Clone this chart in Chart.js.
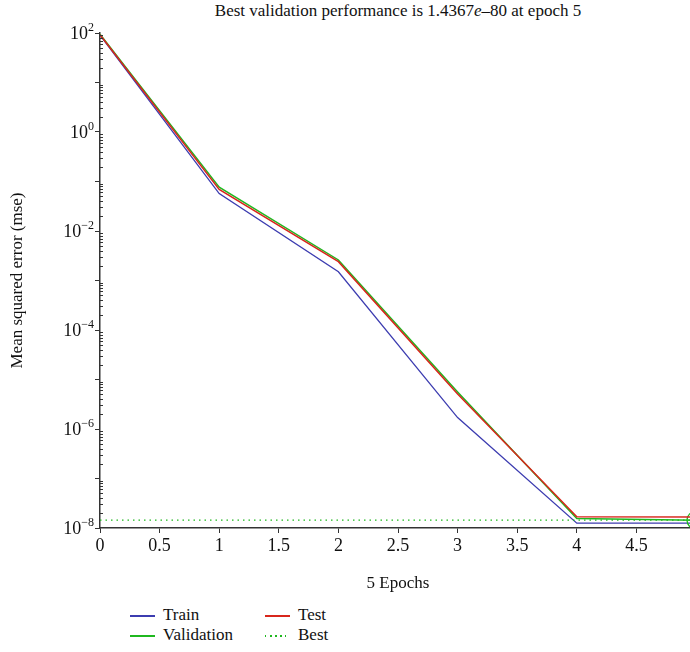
<!DOCTYPE html>
<html lang="en">
<head>
    <meta charset="UTF-8">
    <title>Best validation performance</title>
    <style>
        body {
            margin: 0;
            width: 690px;
            height: 652px;
            overflow: hidden;
            position: relative;
            background: #fff;
            font-family: "Liberation Serif", "DejaVu Serif", serif;
            color: #111;
        }
        #title {
            position: absolute;
            left: 100px;
            top: 1px;
            width: 596px;
            text-align: center;
            font-size: 17px;
            line-height: 20px;
        }
        .chart-container {
            position: absolute;
            left: 0;
            top: 0;
            width: 710px;
            height: 600px;
        }
        #legend {
            position: absolute;
            left: 130px;
            top: 605px;
            display: grid;
            grid-template-columns: 135px 135px;
            grid-auto-flow: column;
            grid-template-rows: 20px 20px;
            font-size: 17px;
            line-height: 20px;
        }
        .item { display: flex; align-items: center; }
        .sample { display: block; width: 25px; height: 2px; margin-right: 8px; margin-top: 1px; }
    </style>
</head>
<body>
    <div id="title">Best validation performance is 1.4367<i>e</i>–80 at epoch 5</div>
    <div class="chart-container">
        <canvas id="chart"></canvas>
    </div>
    <div id="legend"></div>

    <script src="https://cdn.jsdelivr.net/npm/chart.js"></script>
    <script>
        // mse per epoch
        const epochs = [0, 1, 2, 3, 4, 5];
        const trainMse = [90, 0.057, 0.0015, 1.7e-6, 1.25e-8, 1.25e-8];
        const validationMse = [95, 0.077, 0.0026, 5.6e-6, 1.55e-8, 1.4367e-8];
        const testMse = [92, 0.069, 0.0024, 5.1e-6, 1.68e-8, 1.66e-8];
        const bestEpoch = 5;
        const bestMse = 1.4367e-8;

        const yTickPowers = [2, 0, -2, -4, -6, -8];
        const xTickStep = 0.5;

        const colors = {
            Train: '#3c3cb0',
            Validation: '#1fb81f',
            Test: '#d8261c',
            Best: '#1fb81f'
        };

        function points(ys) {
            return epochs.map((x, i) => ({ x: x, y: ys[i] }));
        }

        function isPower(v) {
            const e = Math.log10(v);
            return Math.abs(e - Math.round(e)) < 1e-9;
        }

        // y labels as 10 with a raised exponent, minor log ticks drawn inward
        const logAxisDecor = {
            id: 'logAxisDecor',
            afterDraw(chart) {
                const ctx = chart.ctx;
                const y = chart.scales.y;
                const left = chart.chartArea.left;
                ctx.save();
                ctx.strokeStyle = '#333';
                ctx.lineWidth = 1;
                y.ticks.forEach(t => {
                    if (isPower(t.value)) return;
                    const py = Math.round(y.getPixelForValue(t.value)) + 0.5;
                    ctx.beginPath();
                    ctx.moveTo(left, py);
                    ctx.lineTo(left + 3, py);
                    ctx.stroke();
                });
                ctx.fillStyle = '#111';
                ctx.textBaseline = 'middle';
                ctx.textAlign = 'left';
                yTickPowers.forEach(p => {
                    const py = y.getPixelForValue(Math.pow(10, p));
                    const exp = p < 0 ? '\u2212' + (-p) : String(p);
                    ctx.font = '12px "Liberation Serif"';
                    const ew = ctx.measureText(exp).width;
                    ctx.font = '18px "Liberation Serif"';
                    const bw = ctx.measureText('10').width;
                    const right = left - 6;
                    ctx.fillText('10', right - ew - bw, py + 1);
                    ctx.font = '12px "Liberation Serif"';
                    ctx.fillText(exp, right - ew, py - 5);
                });
                ctx.restore();
            }
        };

        const ctx = document.getElementById('chart').getContext('2d');
        const chart = new Chart(ctx, {
            type: 'line',
            data: {
                datasets: [
                    {
                        label: 'Test',
                        data: points(testMse),
                        borderColor: colors.Test,
                        borderWidth: 1.5,
                        pointRadius: 0,
                        order: 0
                    },
                    {
                        label: 'Best',
                        data: [{ x: 0, y: bestMse }, { x: bestEpoch, y: bestMse }],
                        borderColor: colors.Best,
                        borderWidth: 1.3,
                        borderDash: [1.5, 4],
                        pointRadius: c => c.dataIndex === 1 ? 9 : 0,
                        pointBorderColor: colors.Best,
                        pointBackgroundColor: 'rgba(0,0,0,0)',
                        pointBorderWidth: 1.3,
                        clip: false,
                        order: 1
                    },
                    {
                        label: 'Validation',
                        data: points(validationMse),
                        borderColor: colors.Validation,
                        borderWidth: 1.5,
                        pointRadius: 0,
                        order: 2
                    },
                    {
                        label: 'Train',
                        data: points(trainMse),
                        borderColor: colors.Train,
                        borderWidth: 1.3,
                        pointRadius: 0,
                        order: 3
                    }
                ]
            },
            options: {
                responsive: true,
                maintainAspectRatio: false,
                animation: false,
                layout: { padding: { top: 33, right: 14, left: 0, bottom: 0 } },
                plugins: {
                    legend: { display: false },
                    tooltip: { enabled: false }
                },
                scales: {
                    x: {
                        type: 'linear',
                        min: 0,
                        max: 5,
                        ticks: {
                            stepSize: xTickStep,
                            color: '#111',
                            padding: 2,
                            font: { family: 'Liberation Serif', size: 18 },
                            maxRotation: 0,
                            callback: v => v < 5 ? String(v) : ''
                        },
                        grid: { drawOnChartArea: false, tickLength: 5, tickColor: '#333' },
                        border: { color: '#333', width: 1.5 },
                        title: {
                            display: true,
                            text: '5 Epochs',
                            color: '#111',
                            font: { family: 'Liberation Serif', size: 17 },
                            padding: { top: 0, bottom: 6 }
                        },
                        afterFit(scale) { scale.height = 72; }
                    },
                    y: {
                        type: 'logarithmic',
                        min: 1e-8,
                        max: 100,
                        afterBuildTicks(scale) {
                            const ticks = [];
                            for (let e = -8; e <= 2; e++) {
                                for (let m = 1; m <= 9; m++) {
                                    const v = m * Math.pow(10, e);
                                    if (v <= 100 * 1.0001) ticks.push({ value: v });
                                }
                            }
                            scale.ticks = ticks;
                        },
                        ticks: {
                            autoSkip: false,
                            callback: () => ''
                        },
                        grid: {
                            drawOnChartArea: false,
                            tickLength: 5,
                            tickColor: c => isPower(c.tick.value) ? '#333' : 'rgba(0,0,0,0)'
                        },
                        border: { color: '#333', width: 1.5 },
                        title: {
                            display: true,
                            text: 'Mean squared error (mse)',
                            color: '#111',
                            font: { family: 'Liberation Serif', size: 17 },
                            padding: { top: 7, bottom: 0 }
                        },
                        afterFit(scale) { scale.width = 100; }
                    }
                }
            },
            plugins: [logAxisDecor]
        });

        // legend in two columns: Train / Validation, Test / Best
        const legendOrder = ['Train', 'Validation', 'Test', 'Best'];
        const legend = document.getElementById('legend');
        legendOrder.forEach(name => {
            const item = document.createElement('div');
            item.className = 'item';
            const sample = document.createElement('span');
            sample.className = 'sample';
            if (name === 'Best') {
                sample.style.background = 'repeating-linear-gradient(90deg, ' + colors.Best +
                    ' 0 1.5px, transparent 1.5px 5px)';
            } else {
                sample.style.background = colors[name];
            }
            item.appendChild(sample);
            item.appendChild(document.createTextNode(name));
            legend.appendChild(item);
        });
    </script>
</body>
</html>
